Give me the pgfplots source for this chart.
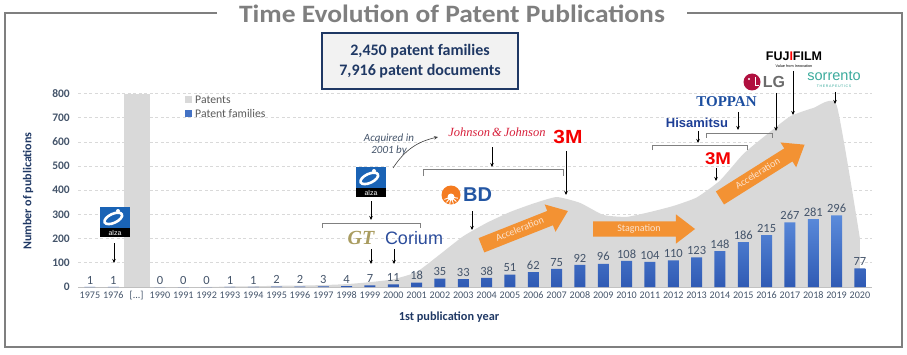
\documentclass[border=0pt]{standalone}
\usepackage{pgfplots}
\pgfplotsset{compat=1.18}
\usepackage{pgfplotstable}
\usepackage{fontspec}
\setmainfont{Carlito}[Numbers=Lining]
\newfontfamily\serifb{Liberation Serif}
\newfontfamily\sansb{Liberation Sans}
\usetikzlibrary{shapes.arrows, arrows.meta}

\definecolor{navy}{HTML}{1F3864}
\definecolor{slate}{HTML}{44546A}
\definecolor{areagray}{HTML}{D9D9D9}
\definecolor{barblue}{HTML}{4472C4}
\definecolor{bartop}{HTML}{5B8BDB}
\definecolor{barbot}{HTML}{2F5AB4}
\definecolor{framegray}{HTML}{7F7F7F}
\definecolor{legtext}{HTML}{595959}
\definecolor{boxfill}{HTML}{F2F2F2}
\definecolor{accorange}{HTML}{F39233}
\definecolor{acctext}{HTML}{FCE4D0}
\definecolor{jjred}{HTML}{D71F3A}
\definecolor{mred}{HTML}{F40000}
\definecolor{bdblue}{HTML}{2356A3}
\definecolor{bdorange}{HTML}{F47B20}
\definecolor{coriumblue}{HTML}{2B4C9B}
\definecolor{gtgold}{HTML}{A99C60}
\definecolor{hisablue}{HTML}{1E3F96}
\definecolor{toppanblue}{HTML}{1C4EA0}
\definecolor{lgred}{HTML}{B0103F}
\definecolor{lggray}{HTML}{6B6B6B}
\definecolor{sorrteal}{HTML}{3AAA9C}
\definecolor{alzablue}{HTML}{1A63B5}
\definecolor{brackgray}{HTML}{808080}

\pgfplotstableread{
idx fam
0 1
1 1
3 0
4 0
5 0
6 1
7 1
8 2
9 2
10 3
11 4
12 7
13 11
14 18
15 35
16 33
17 38
18 51
19 62
20 75
21 92
22 96
23 108
24 104
25 110
26 123
27 148
28 186
29 215
30 267
31 281
32 296
33 77
}\famtable

\pgfplotstableread{
idx pat
3 0
4 0
5 0
6 2
7 3
8 5
9 6
10 8
11 12
12 20
13 32
14 62
15 135
16 210
17 265
18 310
19 345
20 372
21 348
22 298
23 290
24 310
25 335
26 370
27 440
28 550
29 630
30 705
31 740
32 752
33 200
}\pattable

\tikzset{
  alzalogo/.pic={
    \fill[alzablue] (-15,-15) rectangle (15,6);
    \fill[black] (-15,6) rectangle (15,15);
    \node[text=white, font=\sansb\fontsize{7}{7}\selectfont, inner sep=0pt] at (0,10.5) {alza};
    \draw[white, line width=2.6pt, rotate=25] (0,-4) ellipse (9.5pt and 4.5pt);
    \fill[white] (3,-11) circle (2pt);
  },
  darr/.style={-{Stealth[length=4pt,width=3.5pt]}, line width=0.6pt, black},
  brk/.style={line width=0.7pt, brackgray},
  blockarr/.style={single arrow, fill=accorange, draw=none, single arrow head extend=7pt,
    single arrow tip angle=75, inner xsep=2pt, inner ysep=3pt, text height=7pt, text depth=2pt,
    font=\fontsize{10}{10}\selectfont, text=acctext, anchor=center}
}

\begin{document}
\begin{tikzpicture}
\path[use as bounding box] (0pt,0pt) rectangle (907pt,354pt);
\begin{axis}[
  at={(78.3pt,67pt)}, anchor=south west,
  scale only axis, width=793.3pt, height=193.5pt,
  xmin=-0.5, xmax=33.5, ymin=0, ymax=800,
  xtick={0,...,33},
  xticklabels={1975,1976,{[.{}.{}.]},1990,1991,1992,1993,1994,1995,1996,1997,1998,1999,2000,2001,2002,2003,2004,2005,2006,2007,2008,2009,2010,2011,2012,2013,2014,2015,2016,2017,2018,2019,2020},
  ytick={100,200,300,400,500,600,700,800},
  extra y ticks={0},
  extra y tick style={grid style={solid, draw=gray!50, line width=0.9pt, dash pattern=}},
  ymajorgrids,
  grid style={draw=areagray, line width=0.7pt, dash pattern=on 3pt off 2.5pt},
  axis line style={draw=none},
  major tick length=0pt,
  /pgf/number format/assume math mode=true,
  x tick label style={font=\fontsize{10.1}{12}\selectfont, text=slate, text height=7pt, text depth=0pt, yshift=-1pt},
  y tick label style={font=\fontsize{11.5}{12}\selectfont\bfseries, text=slate, xshift=-5pt},
]
\addplot[fill=areagray, draw=none, smooth, tension=0.3] table[x=idx, y=pat]{\pattable} \closedcycle;
\addplot[ybar, bar width=26pt, bar shift=0pt, fill=areagray, draw=none] coordinates {(2,800)};
\addplot[ybar, bar width=11pt, bar shift=0pt, draw=none, top color=bartop, bottom color=barbot] table[x=idx, y=fam]{\famtable};
\addplot[ybar, bar width=0.1pt, bar shift=0pt, draw=none, fill=none, nodes near coords,
  every node near coord/.style={anchor=south, font=\fontsize{12.5}{13}\selectfont, text=slate, inner sep=2.5pt}]
  table[x=idx, y=fam]{\famtable};
\end{axis}

\begin{scope}[x=1pt, y=-1pt, shift={(0pt,354pt)}]
% frame and title
\draw[framegray, line width=2pt] (217,13) -- (5,13) -- (5,347) -- (902,347) -- (902,13) -- (687,13);
\node[font=\fontsize{25}{28}\selectfont\bfseries, text=framegray, xscale=1.1] at (452,14) {Time Evolution of Patent Publications};
% summary box
\draw[navy, line width=1.2pt, fill=boxfill] (322,33) rectangle (518,89);
\node[font=\fontsize{16}{18}\selectfont\bfseries, text=navy] at (420,51.5) {2,450 patent families};
\node[font=\fontsize{16}{18}\selectfont\bfseries, text=navy] at (420,71.5) {7,916 patent documents};
% axis titles
\node[rotate=90, font=\fontsize{12}{13}\selectfont\bfseries, text=navy] at (28,191) {Number of publications};
\node[font=\fontsize{12.3}{13}\selectfont\bfseries, text=navy] at (449,317) {1st publication year};
% legend
\fill[areagray] (185,96.5) rectangle (192,103.5);
\node[anchor=west, font=\fontsize{11.7}{12}\selectfont, text=legtext, inner sep=0pt] at (195,100) {Patents};
\fill[barblue] (185,110) rectangle (192,117);
\node[anchor=west, font=\fontsize{11.7}{12}\selectfont, text=legtext, inner sep=0pt] at (195,113.5) {Patent families};

% alza 1976
\pic at (115,222) {alzalogo};
\draw[darr] (114,243) -- (114,263);

% alza -> GT / Corium
\pic at (371,182) {alzalogo};
\draw[darr] (371,201) -- (371,220);
\draw[brk] (322,228) -- (322,223.5) -- (420,223.5) -- (420,228);
\node[font=\serifb\bfseries\itshape\fontsize{20}{20}\selectfont, text=gtgold, inner sep=0pt] at (361,238) {GT};
\node[font=\sansb\fontsize{18}{18}\selectfont, text=coriumblue, inner sep=0pt] at (414,238) {Corium};
\draw[darr] (371,249) -- (371,264);
\draw[darr] (394,249) -- (394,264);

% acquired in 2001 by
\node[align=center, font=\fontsize{11}{13}\selectfont\itshape, text=slate] at (389,145) {Acquired in\\[-1pt]2001 by};
\draw[-{Stealth[length=4pt,width=3.5pt]}, line width=0.6pt, black!75] (393,168) to[bend left=22] (438,137);

% J&J and 3M
\node[font=\serifb\itshape\fontsize{12.5}{13}\selectfont, text=jjred, inner sep=0pt] at (497,132) {Johnson\,\&\,Johnson};
\node[font=\sansb\bfseries\fontsize{19}{19}\selectfont, text=mred, inner sep=0pt, xscale=1.1] at (568,137) {3M};
\draw[darr] (492,147) -- (492,167);
\draw[brk] (423,176) -- (423,169.5) -- (563,169.5) -- (563,176);
\draw[darr] (566,151) -- (566,195);

% BD
\fill[bdorange] (451,195) circle (9.5pt);
\fill[white] (451,197) circle (3.5pt);
\foreach \a in {20,50,80,110,140,170} {\draw[white, line width=0.9pt] (451,197) -- ++(\a:-7pt);}
\node[font=\sansb\bfseries\fontsize{20}{20}\selectfont, text=bdblue, inner sep=0pt] at (477.5,195) {BD};
\draw[darr] (472,211) -- (472,230);

% orange arrows
\node[blockarr, minimum height=93pt, rotate=21.6] at (520,230) {Acceleration};
\node[blockarr, minimum height=102pt] at (639,229) {Stagnation};
\node[blockarr, minimum height=100pt, rotate=32.2] at (758,174) {Acceleration};

% Hisamitsu, 3M, Toppan
\node[font=\sansb\bfseries\fontsize{13}{13}\selectfont, text=hisablue, inner sep=0pt] at (697,122.5) {Hisamitsu};
\draw[darr] (698,131) -- (698,143);
\draw[brk] (652,150) -- (652,145) -- (747,145) -- (747,150);
\node[font=\sansb\bfseries\fontsize{17}{17}\selectfont, text=mred, inner sep=0pt, xscale=1.1] at (718,159) {3M};
\draw[darr] (716,168) -- (716,181);
\node[font=\serifb\bfseries\fontsize{15}{15}\selectfont, text=toppanblue, inner sep=0pt] at (726.5,102) {TOPPAN};
\draw[darr] (738,112) -- (738,130);
\draw[brk] (706,138) -- (706,133) -- (772,133) -- (772,138);

% LG
\fill[lgred] (752,82) circle (8.5pt);
\fill[white] (749,79) circle (1.2pt);
\draw[white, line width=1pt] (755,77) -- (755,86) -- (759,86);
\node[font=\sansb\bfseries\fontsize{16}{16}\selectfont, text=lggray, inner sep=0pt] at (774,82) {LG};
\draw[darr] (776,93) -- (776,131);

% FUJIFILM
\node[font=\sansb\bfseries\fontsize{12.5}{13}\selectfont, text=black, inner sep=0pt] at (794,56.5) {FUJ\textcolor{red}{I}FILM};
\node[font=\sansb\fontsize{3.8}{4}\selectfont, text=black, inner sep=0pt] at (794,66) {Value from Innovation};
\draw[darr] (793,71) -- (793,115);

% sorrento
\node[font=\sansb\fontsize{14.5}{15}\selectfont, text=sorrteal, inner sep=0pt] at (834,76) {sorrento};
\node[font=\sansb\fontsize{3.6}{4}\selectfont, text=sorrteal, inner sep=0pt] at (834,86) {T\,H\,E\,R\,A\,P\,E\,U\,T\,I\,C\,S};
\draw[darr] (835,92) -- (835,104);
\end{scope}
\end{tikzpicture}
\end{document}
